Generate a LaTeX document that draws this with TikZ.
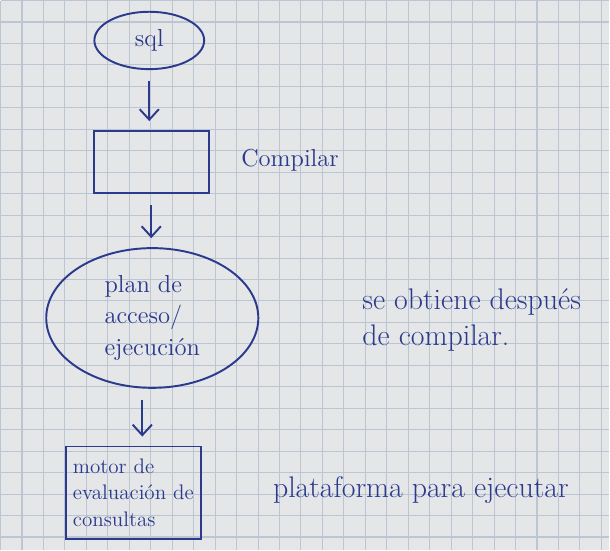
\documentclass[tikz,border=0pt]{standalone}
\usetikzlibrary{shapes.geometric,arrows.meta}
\definecolor{inkblue}{HTML}{2B3A8C}
\definecolor{paper}{HTML}{E4E6E8}
\definecolor{gridblue}{HTML}{BCC6D2}
\begin{document}
\begin{tikzpicture}[x=0.02cm,y=-0.02cm,
    ink/.style={draw=inkblue,line width=1.1pt},
    txt/.style={text=inkblue,font=\fontsize{14}{18}\selectfont},
    note/.style={txt,font=\fontsize{17}{21}\selectfont},
    flecha/.style={ink,-{Straight Barb[length=6pt,width=11pt]},shorten <=0.22cm,shorten >=0.18cm}]
    % papel cuadriculado
    \fill[paper] (0,0) rectangle (610,550);
    \draw[gridblue,line width=0.6pt] (0,0) grid[step=0.43cm] (610,550);
    % diagrama
    \path (149,40) node[ellipse,ink,txt,minimum width=2.2cm,minimum height=1.15cm] (sql) {sql};
    \path (151,162) node[rectangle,ink,minimum width=2.3cm,minimum height=1.25cm] (comp) {};
    \path (152,318) node[ellipse,ink,txt,align=left,minimum width=4.25cm,minimum height=2.8cm] (plan) {plan de\\acceso/\\ejecución};
    \path (133,493) node[rectangle,ink,txt,align=left,inner sep=2pt,minimum width=2.7cm,minimum height=1.85cm,font=\fontsize{12}{15}\selectfont] (motor) {motor de\\evaluación de\\consultas};
    \path (290,160) node[txt] (compilar) {Compilar};
    \path (472,320) node[note,align=left] (despues) {se obtiene después\\de compilar.};
    \path (421,490) node[note] (plataforma) {plataforma para ejecutar};
    \draw[flecha] (sql.south) -- (sql.south |- comp.north);
    \draw[flecha] (comp.south) -- (comp.south |- plan.north);
    \draw[flecha] ([xshift=-0.2cm]plan.south) -- ([xshift=-0.2cm]plan.south |- motor.north);
\end{tikzpicture}
\end{document}
